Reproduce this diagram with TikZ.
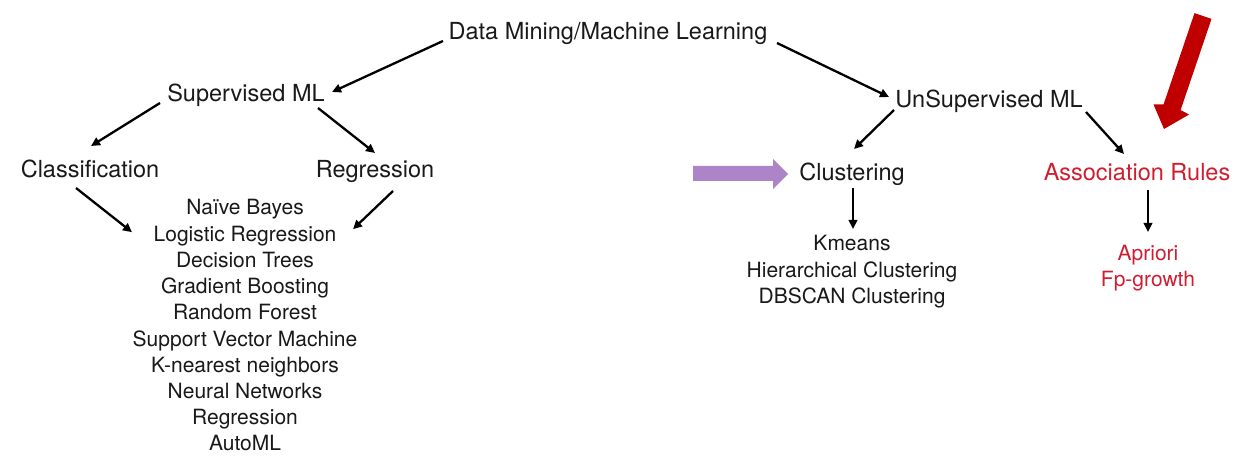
\documentclass[tikz,border=0pt]{standalone}
\usepackage{fontspec}
\setmainfont{TeX Gyre Heros}
\usetikzlibrary{arrows.meta}
\definecolor{txt}{RGB}{25,25,25}
\definecolor{redtxt}{RGB}{208,30,48}
\definecolor{purp}{RGB}{174,132,200}
\definecolor{bigred}{RGB}{192,0,0}
\tikzset{
  head/.style={inner sep=0pt, anchor=base, text=txt, font=\fontsize{23.5}{28}\selectfont},
  item/.style={inner sep=0pt, anchor=base, text=txt, font=\fontsize{21}{25}\selectfont},
  reditem/.style={item, text=redtxt},
  arr/.style={draw=black, line width=2.3pt, -{Triangle[length=9pt,width=8.5pt]}},
}
\begin{document}
\begin{tikzpicture}[x=1pt,y=-1pt]
\path[use as bounding box, fill=white] (0,0) rectangle (1243,465);

\node[head] (dm) at (608,40) {Data Mining/Machine Learning};
\node[head] (sup) at (246,102) {Supervised ML};
\node[head] (cls) at (90,178) {Classification};
\node[head] (reg) at (375,178) {Regression};
\node[head] (uns) at (989,108) {UnSupervised ML};
\node[head] (clu) at (852,181) {Clustering};
\node[head, text=redtxt] (asr) at (1137,181) {Association Rules};

\foreach \t [count=\i] in {Na\"ive Bayes, Logistic Regression, Decision Trees, Gradient Boosting, Random Forest, Support Vector Machine, K-nearest neighbors, Neural Networks, Regression, AutoML}
  \node[item] (l\i) at (245,{215+26.2*(\i-1)}) {\t};

\node[item] (k1) at (852,251) {Kmeans};
\node[item] (k2) at (852,278) {Hierarchical Clustering};
\node[item] (k3) at (852,304) {DBSCAN Clustering};

\node[reditem] (p1) at (1148,261) {Apriori};
\node[reditem] (p2) at (1148,287) {Fp-growth};

\draw[arr] ([shift={(-165,1)}]dm.base) -- ([shift={(86,-10)}]sup.base);
\draw[arr] ([shift={(169,3)}]dm.base) -- ([shift={(-100,-11)}]uns.base);
\draw[arr] ([shift={(-86,1)}]sup.base) -- ([shift={(1,-32)}]cls.base);
\draw[arr] ([shift={(72,6)}]sup.base) -- ([shift={(0,-25)}]reg.base);
\draw[arr] ([shift={(-14,10)}]cls.base) -- ([shift={(-113,-9)}]l2.base);
\draw[arr] ([shift={(18,13)}]reg.base) -- ([shift={(108,-12)}]l2.base);
\draw[arr] ([shift={(-95,2)}]uns.base) -- ([shift={(2,-32)}]clu.base);
\draw[arr] ([shift={(97,4)}]uns.base) -- ([shift={(-13,-27)}]asr.base);
\draw[arr] ([shift={(1,7)}]clu.base) -- ([shift={(1,-22)}]k1.base);
\draw[arr] ([shift={(11,9)}]asr.base) -- ([shift={(0,-29)}]p1.base);

% purple block arrow
\fill[purp] (693,166) -- (773,166) -- (773,159) -- (788,174) -- (773,189) -- (773,181) -- (693,181) -- cycle;

% red block arrow
\fill[bigred] (1211.5,18.9) -- (1180.6,110.1) -- (1189.1,114.5) -- (1164,129) -- (1153.5,104.5) -- (1163.6,104.3) -- (1194.5,13.1) -- cycle;
\end{tikzpicture}
\end{document}
